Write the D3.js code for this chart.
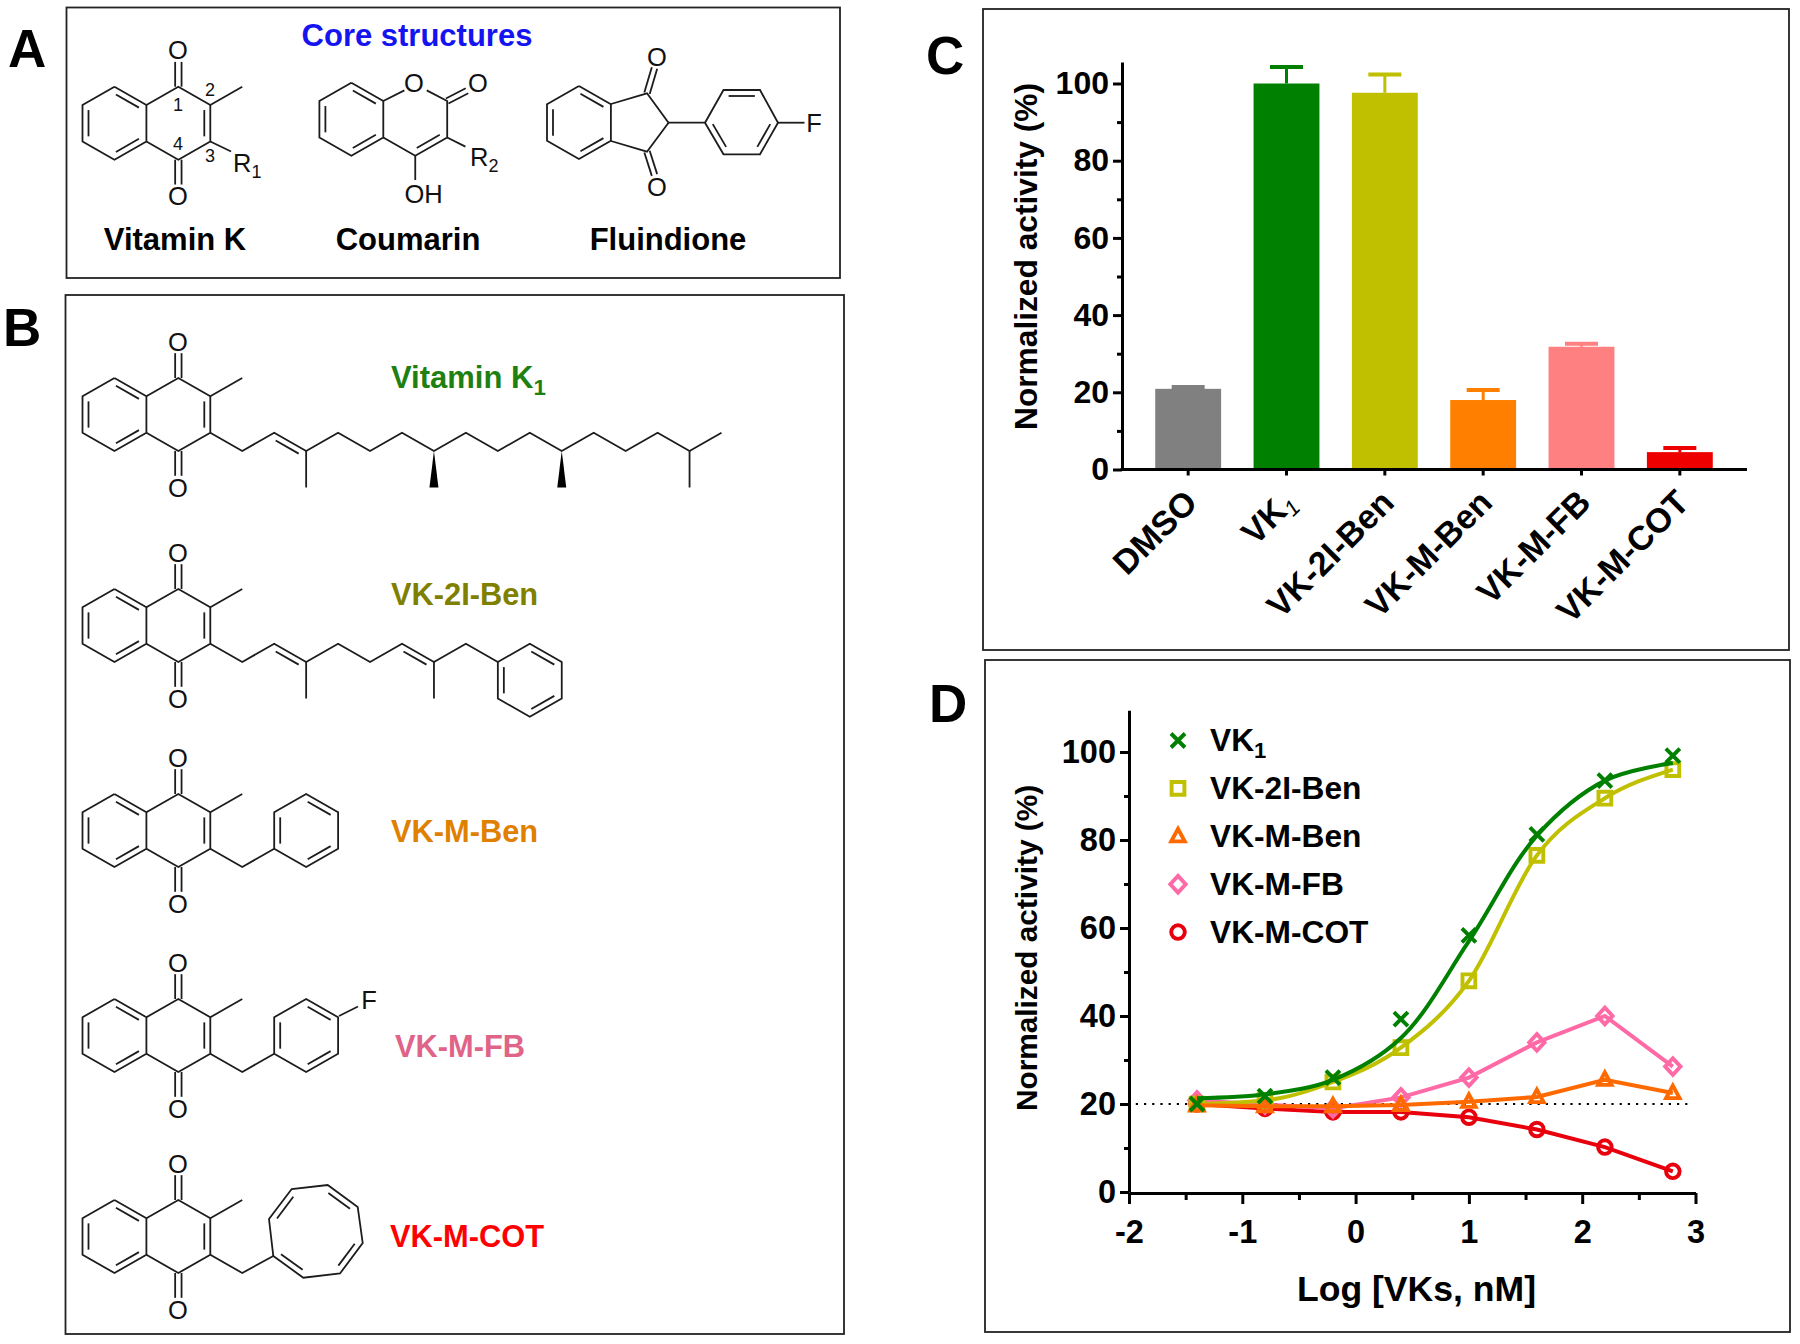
<!DOCTYPE html>
<html><head><meta charset="utf-8">
<script src="https://cdn.jsdelivr.net/npm/d3@7"></script>
<style>
html,body{margin:0;padding:0;background:#fff}
text{font-family:"Liberation Sans",Arial,sans-serif}
svg{display:block}
</style></head><body>
<svg id="fig" width="1800" height="1344"></svg>
<script>
// ---------- chart data ----------
const barCategories = ["DMSO","VK1","VK-2I-Ben","VK-M-Ben","VK-M-FB","VK-M-COT"];
const barValues     = [20.9,100,97.6,18,31.8,4.5];
const barErrorTops  = [21.4,104.3,102.3,20.6,32.6,5.6];
const barColors     = ["#808080","#008000","#c0c000","#ff8000","#ff8080","#ee0000"];

const logDose   = [-1.4,-0.8,-0.2,0.4,1,1.6,2.2,2.8];
const vk1Points = [20,21.8,26,39.3,58.3,81.3,93.5,99.2];
const vk1Fit    = [21.3,22.2,25.5,35,57,81,93.5,97.5];
const vk2iBen   = [20,20.8,25,32.8,48,76.5,89.5,96];
const vkMBen    = [19.7,19.5,19.5,19.8,20.5,21.6,25.5,22.5];
const vkMFB     = [20.8,19.9,19,21.5,26,34,40,28.5];
const vkMCOT    = [20,19,18.2,18.2,17,14.2,10.2,4.7];
const baselineLevel = 20;
const yTicksMajor = [0,20,40,60,80,100];
const yTicksMinor = [10,30,50,70,90];
const xTicksMajor = [-2,-1,0,1,2,3];
const xTicksMinor = [-1.5,-0.5,0.5,1.5,2.5];

const svg = d3.select("#fig");
const ink = "#000";

// ---------- helpers ----------
function txt(s,x,y,size,opt={}){
  const t = svg.append("text").attr("x",x).attr("y",y).attr("font-size",size)
    .attr("font-weight",opt.weight||"bold").attr("fill",opt.fill||ink)
    .attr("text-anchor",opt.anchor||"start");
  if(opt.sub){
    t.append("tspan").text(s);
    t.append("tspan").text(opt.sub).attr("dy",size*0.22).attr("font-size",size*0.72);
  } else t.text(s);
  return t;
}
function box(x0,y0,x1,y1){
  svg.append("rect").attr("x",x0).attr("y",y0).attr("width",x1-x0).attr("height",y1-y0)
    .attr("fill","none").attr("stroke","#222").attr("stroke-width",1.8);
}

// ---------- panel frames and letters ----------
box(66.5,7.5,840,278);
box(65.5,295,844,1334);
box(983,9,1789,650);
box(985,660,1790,1332);
txt("A",8,67,53); txt("B",3,346,53); txt("C",926,74,53); txt("D",929,722,53);

// ---------- molecule drawing ----------
const pathLine = d3.line();
const bondG = svg.append("g").attr("fill","none").attr("stroke","#1c1c1c")
  .attr("stroke-width",1.8).attr("stroke-linejoin","miter");
const DX = 31.95, DY = 18.25;
function lat(ox,oy){ return p=>[ox+p[0]*DX, oy+p[1]*DY]; }
function poly(pts){ bondG.append("path").attr("d",pathLine(pts)); }
function inner(a,b,c,off=6,trim=0.14){
  const dx=b[0]-a[0],dy=b[1]-a[1],len=Math.hypot(dx,dy);
  let nx=-dy/len,ny=dx/len;
  if((c[0]-a[0])*nx+(c[1]-a[1])*ny<0){nx=-nx;ny=-ny;}
  poly([[a[0]+dx*trim+nx*off,a[1]+dy*trim+ny*off],[b[0]-dx*trim+nx*off,b[1]-dy*trim+ny*off]]);
}
function twin(a,b,off=3.2){
  const dx=b[0]-a[0],dy=b[1]-a[1],len=Math.hypot(dx,dy),nx=-dy/len*off,ny=dx/len*off;
  poly([[a[0]+nx,a[1]+ny],[b[0]+nx,b[1]+ny]]);
  poly([[a[0]-nx,a[1]-ny],[b[0]-nx,b[1]-ny]]);
}
function atom(s,x,y,size=25.5){
  svg.append("text").attr("x",x).attr("y",y).attr("dy","0.36em").attr("text-anchor","middle")
    .attr("font-size",size).attr("fill","#111").text(s);
}
function benzeneLeft(L){
  poly([[1,0],[2,1],[2,3],[1,4],[0,3],[0,1],[1,0]].map(L));
  inner(L([1,0]),L([2,1]),L([1,2]));
  inner(L([0,1]),L([0,3]),L([1,2]));
  inner(L([1,4]),L([2,3]),L([1,2]));
}
function quinone(ox,oy){
  const L = lat(ox,oy);
  benzeneLeft(L);
  poly([[2,1],[3,0],[4,1],[4,3],[3,4],[2,3]].map(L));
  poly([[4,1],[5,0]].map(L));
  inner(L([4,1]),L([4,3]),L([3,2]));
  twin(L([3,0]),L([3,-1.36]));
  twin(L([3,4]),L([3,5.36]));
  const t=L([3,-2]),b=L([3,6]);
  atom("O",t[0]-0.5,t[1]); atom("O",b[0]-0.5,b[1]);
  return L;
}
function phenyl(L,ring,dbl,c){
  poly(ring.concat([ring[0]]).map(L));
  dbl.forEach(e=>inner(L(e[0]),L(e[1]),L(c)));
}
function wedge(L,i){
  const a=L([i,4]),b=L([i,6]);
  svg.append("path").attr("d",pathLine([a,[b[0]-4.5,b[1]],[b[0]+4.5,b[1]]])+"Z").attr("fill","#000");
}

// Panel A: Vitamin K core
{
  const L = quinone(82.5,86.7);
  poly([[4,3],[4.65,3.55]].map(L));
  txt("R",233,172,25.5,{weight:"normal",fill:"#111"}).append("tspan").text("1").attr("dy",6).attr("font-size",18);
  atom("2",210,90,18); atom("1",178,105,18); atom("4",178,144,18); atom("3",210,156,18);
}
// Panel A: Coumarin core
{
  const L = lat(319.4,82.7);
  benzeneLeft(L);
  poly([[2,1],[2.66,0.42]].map(L));
  poly([[3.36,0.42],[4,1],[4,3],[3,4],[2,3]].map(L));
  poly([[3,4],[3,5.33]].map(L));
  poly([[4,3],[4.57,3.5]].map(L));
  twin(L([4,1]),L([4.62,0.44]),2.8);
  inner(L([4,3]),L([3,4]),L([3,2]));
  atom("O",414,83); atom("O",478,83); atom("OH",423.5,193.5);
  txt("R",470,166,25.5,{weight:"normal",fill:"#111"}).append("tspan").text("2").attr("dy",6).attr("font-size",18);
}
// Panel A: Fluindione
{
  const L = lat(547,86);
  benzeneLeft(L);
  poly([[611,104],[647,93.3],[668.5,122.7],[647,151.7],[611,141]]);
  poly([[668.5,122.7],[705,122.7]]);
  twin([647,93.3],[654.5,68],2.8);
  twin([647,151.7],[654.5,175],2.8);
  const ring=[[705,122.7],[723.5,90],[760,90],[778,122.7],[760,154.3],[723.5,154.3]];
  poly(ring.concat([ring[0]]));
  const c=[741.5,122.7];
  inner(ring[1],ring[2],c); inner(ring[3],ring[4],c); inner(ring[5],ring[0],c);
  poly([[778,122.7],[804.5,122.7]]);
  atom("O",657,57); atom("O",657,187); atom("F",814,123);
}
// Panel B: Vitamin K1
{
  const L = quinone(82.5,378);
  const chain=[[4,3]]; for(let i=5;i<=20;i++) chain.push([i,i%2?4:3]);
  poly(chain.map(L));
  inner(L([6,3]),L([7,4]),L([6,5]));
  poly([[7,4],[7,6]].map(L)); poly([[19,4],[19,6]].map(L));
  wedge(L,11); wedge(L,15);
}
// Panel B: VK-2I-Ben
{
  const L = quinone(82.5,589);
  const chain=[[4,3]]; for(let i=5;i<=13;i++) chain.push([i,i%2?4:3]);
  poly(chain.map(L));
  inner(L([6,3]),L([7,4]),L([6,5])); inner(L([10,3]),L([11,4]),L([10,5]));
  poly([[7,4],[7,6]].map(L)); poly([[11,4],[11,6]].map(L));
  phenyl(L,[[13,4],[14,3],[15,4],[15,6],[14,7],[13,6]],
    [[[14,3],[15,4]],[[13,4],[13,6]],[[14,7],[15,6]]],[14,5]);
}
// Panel B: VK-M-Ben and VK-M-FB
[794,999].forEach((oy,k)=>{
  const L = quinone(82.5,oy);
  poly([[4,3],[5,4],[6,3]].map(L));
  phenyl(L,[[6,3],[6,1],[7,0],[8,1],[8,3],[7,4]],
    [[[7,0],[8,1]],[[6,1],[6,3]],[[8,3],[7,4]]],[7,2]);
  if(k===1){ poly([[339,1016],[358,1006.5]]); atom("F",369,1000); }
});
// Panel B: VK-M-COT
{
  const L = quinone(82.5,1200);
  poly([[4,3],[5,4]].map(L).concat([[273.3,1256]]));
  const r=[[273.3,1256],[269,1219],[291.7,1189],[327.7,1185],[357.7,1207],[362.7,1243],[340,1273.5],[303.3,1277.7]];
  poly(r.concat([r[0]]));
  const c=[316,1231];
  inner(r[0],r[7],c); inner(r[1],r[2],c); inner(r[3],r[4],c); inner(r[5],r[6],c);
}
// Compound labels
txt("Core structures",417,46,31,{fill:"#1414f0",anchor:"middle"});
txt("Vitamin K",175,250,31,{anchor:"middle"});
txt("Coumarin",408,250,31,{anchor:"middle"});
txt("Fluindione",668,250,31,{anchor:"middle"});
txt("Vitamin K",391,388,31,{fill:"#1e8010",sub:"1"});
txt("VK-2I-Ben",391,605,30.8,{fill:"#808000"});
txt("VK-M-Ben",391,842,30.8,{fill:"#e08000"});
txt("VK-M-FB",395,1057,30.8,{fill:"#e06488"});
txt("VK-M-COT",390,1247,30.8,{fill:"#ff0000"});

// ---------- panel C: bars ----------
function styleAxis(g,w){
  g.select(".domain").attr("stroke",ink).attr("stroke-width",w);
  g.selectAll(".tick line").attr("stroke",ink).attr("stroke-width",w);
  g.selectAll(".tick text").attr("font-family",'"Liberation Sans",Arial,sans-serif').attr("font-weight","bold").attr("fill",ink);
}
const cX = d3.scaleBand().domain(barCategories).range([1139,1729]).paddingInner(0.33).paddingOuter(0.165);
const cY = d3.scaleLinear().domain([0,100]).range([469.5,83.5]);
const cBars = svg.append("g");
barCategories.forEach((c,i)=>{
  const col=barColors[i], cx=cX(c)+cX.bandwidth()/2;
  cBars.append("line").attr("x1",cx).attr("x2",cx).attr("y1",cY(barValues[i])).attr("y2",cY(barErrorTops[i]))
    .attr("stroke",col).attr("stroke-width",3);
  cBars.append("line").attr("x1",cx-16.5).attr("x2",cx+16.5).attr("y1",cY(barErrorTops[i])).attr("y2",cY(barErrorTops[i]))
    .attr("stroke",col).attr("stroke-width",4);
  cBars.append("rect").attr("x",cX(c)).attr("width",cX.bandwidth())
    .attr("y",cY(barValues[i])).attr("height",cY(0)-cY(barValues[i])).attr("fill",col);
});
const cYAxisScale = d3.scaleLinear().domain([0,105.6]).range([cY(0),cY(105.6)]);
const cYg = svg.append("g").attr("transform","translate(1122,0)")
  .call(d3.axisLeft(cYAxisScale).tickValues(yTicksMajor).tickSize(9).tickPadding(4).tickSizeOuter(0));
styleAxis(cYg,3); cYg.selectAll(".tick text").attr("font-size",32);
const cYm = svg.append("g").attr("transform","translate(1122,0)")
  .call(d3.axisLeft(cYAxisScale).tickValues(yTicksMinor).tickSize(5).tickFormat(""));
styleAxis(cYm,3); cYm.select(".domain").remove();
const cXg = svg.append("g").attr("transform",`translate(0,${cY(0)})`)
  .call(d3.axisBottom(cX).tickSize(6).tickSizeOuter(0).tickFormat(""));
styleAxis(cXg,3);
cXg.select(".domain").attr("d","M1120.5,0H1747");
cXg.selectAll(".tick").each(function(c){
  const t=d3.select(this).select("text").text(null)
    .attr("transform","translate(11,35) rotate(-45)").attr("text-anchor","end")
    .attr("x",0).attr("y",0).attr("dy",0).attr("font-size",34);
  if(c==="VK1"){
    t.append("tspan").text("VK");
    t.append("tspan").text("1").attr("font-size",22).attr("font-weight","normal").attr("font-style","italic").attr("dy",6);
  } else t.text(c);
});
svg.append("text").attr("transform","translate(1037,256.5) rotate(-90)").attr("text-anchor","middle")
  .attr("font-size",31.7).attr("font-weight","bold").text("Normalized activity (%)");

// ---------- panel D: dose-response ----------
const dX = d3.scaleLinear().domain([-2,3]).range([1129,1695.5]);
const dY = d3.scaleLinear().domain([0,100]).range([1192,752]);
const dYAxis = d3.scaleLinear().domain([0,109.5]).range([dY(0),dY(109.5)]);
const dYg = svg.append("g").attr("transform","translate(1129,0)")
  .call(d3.axisLeft(dYAxis).tickValues(yTicksMajor).tickSize(9).tickPadding(4).tickSizeOuter(0));
styleAxis(dYg,3); dYg.selectAll(".tick text").attr("font-size",32.5);
const dYm = svg.append("g").attr("transform","translate(1129,0)")
  .call(d3.axisLeft(dYAxis).tickValues(yTicksMinor).tickSize(5).tickFormat(""));
styleAxis(dYm,3); dYm.select(".domain").remove();
const dXg = svg.append("g").attr("transform",`translate(0,${dY(0)+1})`)
  .call(d3.axisBottom(dX).tickValues(xTicksMajor).tickSize(11).tickPadding(16).tickSizeOuter(0).tickFormat(d=>d));
styleAxis(dXg,3); dXg.selectAll(".tick text").attr("font-size",32.5);
const dXm = svg.append("g").attr("transform",`translate(0,${dY(0)+1})`)
  .call(d3.axisBottom(dX).tickValues(xTicksMinor).tickSize(7).tickFormat(""));
styleAxis(dXm,3); dXm.select(".domain").remove();
svg.append("line").attr("x1",dX(-1.94)).attr("x2",dX(2.97)).attr("y1",dY(baselineLevel)).attr("y2",dY(baselineLevel))
  .attr("stroke",ink).attr("stroke-width",2.2).attr("stroke-dasharray","2.2,6");

const symbolPaths = {
  x:s=>`M${-s},${-s}L${s},${s}M${-s},${s}L${s},${-s}`,
  square:s=>`M${-s},${-s}H${s}V${s}H${-s}Z`,
  triangle:s=>`M0,${-s*1.15}L${s*1.05},${s*0.8}H${-s*1.05}Z`,
  diamond:s=>`M0,${-s*1.3}L${s*1.2},0L0,${s*1.3}L${-s*1.2},0Z`,
  circle:s=>`M${s},0A${s},${s} 0 1 1 ${-s},0A${s},${s} 0 1 1 ${s},0Z`
};
const doseSeries = [
  {name:"VK-M-COT",pts:vkMCOT,fit:vkMCOT,color:"#e8000d",sym:"circle",s:6.8,curve:d3.curveLinear},
  {name:"VK-M-FB",pts:vkMFB,fit:vkMFB,color:"#ff69a6",sym:"diamond",s:6.4,curve:d3.curveLinear},
  {name:"VK-2I-Ben",pts:vk2iBen,fit:vk2iBen,color:"#c0c000",sym:"square",s:6.4,curve:d3.curveMonotoneX},
  {name:"VK-M-Ben",pts:vkMBen,fit:vkMBen,color:"#ff6a00",sym:"triangle",s:6.4,curve:d3.curveLinear},
  {name:"VK1",pts:vk1Points,fit:vk1Fit,color:"#008000",sym:"x",s:7,curve:d3.curveCatmullRom.alpha(0.5)}
];
const gen = d3.line().x((d,i)=>dX(logDose[i])).y(d=>dY(d));
doseSeries.forEach(S=>{
  const g=svg.append("g");
  g.append("path").attr("d",gen.curve(S.curve)(S.fit))
    .attr("fill","none").attr("stroke",S.color).attr("stroke-width",4);
  g.selectAll("path.m").data(S.pts).enter().append("path").attr("class","m")
    .attr("transform",(d,i)=>`translate(${dX(logDose[i])},${dY(d)})`)
    .attr("d",symbolPaths[S.sym](S.s)).attr("fill","none").attr("stroke",S.color).attr("stroke-width",3.9);
});
// legend
const legendOrder = ["VK1","VK-2I-Ben","VK-M-Ben","VK-M-FB","VK-M-COT"];
legendOrder.forEach((n,i)=>{
  const S=doseSeries.find(d=>d.name===n), y=740.5+i*47.9;
  svg.append("path").attr("transform",`translate(1178,${y})`).attr("d",symbolPaths[S.sym](S.s))
    .attr("fill","none").attr("stroke",S.color).attr("stroke-width",3.9);
  if(n==="VK1") txt("VK",1210,y+10.5,31.7).append("tspan").text("1").attr("dy",7).attr("font-size",22);
  else txt(n,1210,y+10.5,31.7);
});
svg.append("text").attr("transform","translate(1037,948) rotate(-90)").attr("text-anchor","middle")
  .attr("font-size",29.8).attr("font-weight","bold").text("Normalized activity (%)");
txt("Log [VKs, nM]",1416.5,1301,35.6,{anchor:"middle"});
</script>
</body></html>
